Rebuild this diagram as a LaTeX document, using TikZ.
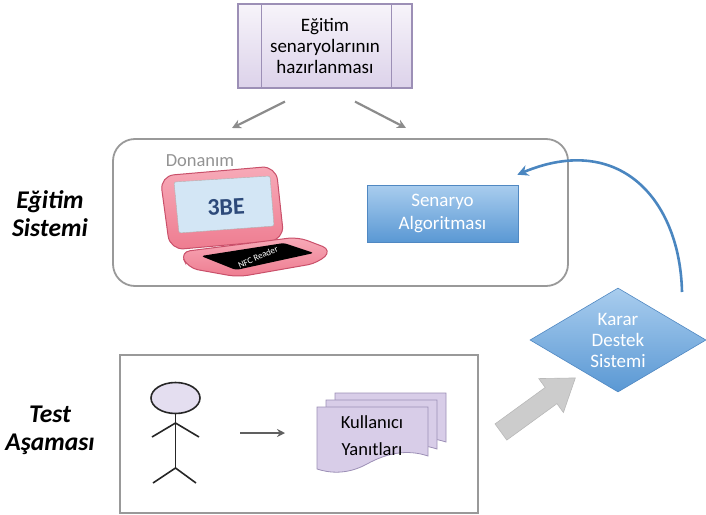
\documentclass[tikz,border=0pt]{standalone}
\usepackage{fontspec}
\setmainfont{Carlito}
\usetikzlibrary{shapes.geometric,arrows.meta,positioning}

\definecolor{prepedge}{HTML}{9C8FB6}
\definecolor{preptop}{HTML}{F7F4FA}
\definecolor{prepbot}{HTML}{DCD2EA}
\definecolor{docfill}{HTML}{D8CDE8}
\definecolor{bluetop}{HTML}{A9CDEE}
\definecolor{bluebot}{HTML}{5A98D4}
\definecolor{blueedge}{HTML}{5088C2}
\definecolor{curveblue}{HTML}{4A86C0}
\definecolor{laptoppink}{HTML}{EE7C90}
\definecolor{laptoplight}{HTML}{F7AAB8}
\definecolor{laptopedge}{HTML}{C9506A}
\definecolor{screenblue}{HTML}{D3E6F5}
\definecolor{logoblue}{HTML}{2D4A7A}
\definecolor{headfill}{HTML}{E4DEF0}

\tikzset{
  txt/.style={font=\fontsize{19}{21}\selectfont, align=center},
  prepbox/.style={txt, draw=prepedge, line width=1.2pt, top color=preptop, bottom color=prepbot,
    minimum width=174, minimum height=84},
  bluebox/.style={txt, text=white, draw=blueedge, line width=0.6pt, top color=bluetop, bottom color=bluebot},
  grayarrow/.style={draw=gray!90, line width=2.2pt, -{Stealth[length=9pt, width=9pt]}},
  framebox/.style={draw=gray!80, line width=1.8pt},
  sidelabel/.style={font=\fontsize{25.5}{28}\selectfont\bfseries\itshape, align=center},
  stick/.style={draw=black!85, line width=1.6pt},
  pinkpart/.style={draw=laptopedge, line width=1pt, top color=laptoplight, bottom color=laptoppink},
  sheet/.pic={
    \draw[draw=prepedge, fill=docfill, line width=0.8pt] (0,0) -- (111,0) -- (111,49)
      .. controls (90,42) and (70,46) .. (50,57) .. controls (30,68) and (12,66) .. (0,62) -- cycle;
  }
}

\begin{document}
\begin{tikzpicture}[x=1pt,y=-1pt]
\useasboundingbox (0,0) rectangle (706,514);

% preparation step
\node[prepbox] (prep) at (325,46) {Eğitim\\senaryolarının\\hazırlanması};
\draw[prepedge, line width=1pt] ([xshift=24pt]prep.north west) -- ([xshift=24pt]prep.south west);
\draw[prepedge, line width=1pt] ([xshift=-21pt]prep.north east) -- ([xshift=-21pt]prep.south east);

% training system
\node[framebox, rounded corners=22, minimum width=455, minimum height=147] (sys) at (340.5,212.5) {};
\coordinate (inL) at (232,128);
\coordinate (inR) at (406,128);
\draw[grayarrow] ([xshift=-40pt,yshift=-13pt]prep.south) -- (inL);
\draw[grayarrow] ([xshift=30pt,yshift=-13pt]prep.south) -- (inR);

\node[font=\fontsize{18.5}{21}\selectfont, text=gray!85] (hw) at (200,161) {Donanım};

% laptop
\draw[pinkpart, rounded corners=14] (160,176) -- (276,166) -- (284,240) -- (170,250) -- cycle;
\draw[gray!60, fill=screenblue, rounded corners=2] (174,182) -- (270,176) -- (274,226) -- (179,233) -- cycle;
\node[font=\fontsize{24}{24}\selectfont\bfseries, text=logoblue, rotate=3] (logo) at (226,207) {3BE};
\draw[pinkpart, rounded corners=10] (180,252) -- (298,237) -- (332,250) -- (318,263) -- (238,277) -- (188,268) -- cycle;
\fill[black, rounded corners=3] (201,256) -- (284,243) -- (314,253) -- (236,270) -- cycle;
\node[white, font=\fontsize{9}{9}\selectfont, rotate=24] (nfc) at (258,257) {NFC Reader};

\node[bluebox, font=\fontsize{19}{23}\selectfont, minimum width=151, minimum height=57] (alg) at (442.5,213.5) {Senaryo\\Algoritması};

% decision support
\node[bluebox, diamond, aspect=1.7, inner sep=0pt, minimum width=176, minimum height=104] (kds) at (618,340) {Karar\\Destek\\Sistemi};
\coordinate (fb) at (682,292);
\draw[curveblue, line width=2.6pt, -{Stealth[length=11pt, width=11pt]}] (fb) .. controls (680,200) and (620,132) .. ([xshift=-1pt,yshift=10pt]alg.north east);

% test phase
\node[framebox, minimum width=358, minimum height=158] (test) at (299,434) {};

\node[stick, ellipse, fill=headfill, minimum width=49, minimum height=31, inner sep=0pt] (head) at (175.5,398) {};
\draw[stick] (head.south) -- (175.5,468) coordinate (hip);
\draw[stick] (152,437) -- (175.5,423) -- (199,437);
\draw[stick] (153,483) -- (hip) -- (196,483);

\pic at (335,393) {sheet};
\pic at (326,400) {sheet};
\pic at (317,407) {sheet};
\node[font=\fontsize{18.5}{27}\selectfont, align=center] (resp) at (372,436) {Kullanıcı\\Yanıtları};

\coordinate (p1) at (240,433);
\coordinate (p2) at (285,433);
\draw[draw=gray!75!black, line width=1.8pt, -{Stealth[length=8pt, width=8pt]}] (p1) -- (p2);

% block arrow to the decision node
\coordinate (blk) at ([xshift=22pt,yshift=2pt]test.east);
\begin{scope}[shift={(blk)}, rotate=36]
  \fill[gray!40, draw=gray!55, line width=0.6pt] (0,10) -- (62,10) -- (62,21) -- (92,0) -- (62,-21) -- (62,-10) -- (0,-10) -- cycle;
\end{scope}

% side labels
\node[sidelabel] (lab1) at (50,214) {Eğitim\\Sistemi};
\node[sidelabel] (lab2) at (50,430) {Test\\Aşaması};
\end{tikzpicture}
\end{document}
